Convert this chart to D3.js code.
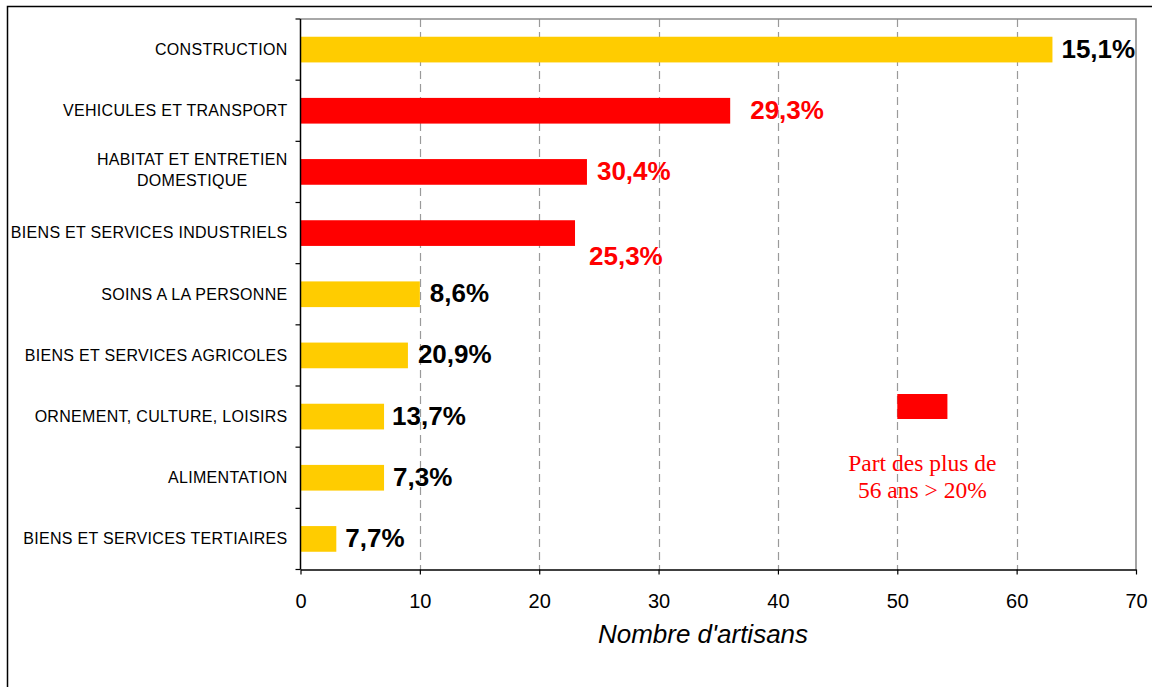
<!DOCTYPE html>
<html>
<head>
<meta charset="utf-8">
<script src="https://cdn.jsdelivr.net/npm/d3@7"></script>
<style>
  html, body { margin: 0; padding: 0; background: #fff; }
  svg { display: block; }
</style>
</head>
<body>
<svg id="chart" width="1152" height="687"></svg>
<script>
// categories, top to bottom ("\n" = line break in the label)
const categories = [
  "CONSTRUCTION",
  "VEHICULES ET TRANSPORT",
  "HABITAT ET ENTRETIEN\nDOMESTIQUE",
  "BIENS ET SERVICES INDUSTRIELS",
  "SOINS A LA PERSONNE",
  "BIENS ET SERVICES AGRICOLES",
  "ORNEMENT, CULTURE, LOISIRS",
  "ALIMENTATION",
  "BIENS ET SERVICES TERTIAIRES"
];
// nombre d'artisans
const artisans = [63, 36, 24, 23, 10, 9, 7, 7, 3];
// part des plus de 56 ans (%)
const partSeniors = [15.1, 29.3, 30.4, 25.3, 8.6, 20.9, 13.7, 7.3, 7.7];
// bars highlighted in red in the original
const highlighted = [false, true, true, true, false, false, false, false, false];
const xTicks = [0, 10, 20, 30, 40, 50, 60, 70];
const legendLines = ["Part des plus de", "56 ans > 20%"];
const axisTitle = "Nombre d'artisans";

// hand placed label nudges (px), as in the original
const labelDx = [9, 20, 10, 14, 10, 10, 8, 9, 9];
const labelDy = [0, 0, 0, 24, 0, 0, 0, 0, 0];

const svg = d3.select("#chart");
const margin = {top: 19, right: 16, bottom: 117.5, left: 300.5};
const width = +svg.attr("width");
const height = +svg.attr("height");
const gold = "#FFCC00", red = "#FF0000";

const fr = d3.formatLocale({decimal: ",", thousands: " ", grouping: [3], currency: ["", " €"]});
const pct = v => fr.format(".1f")(v) + "%";

const x = d3.scaleLinear().domain([0, 70]).range([margin.left, width - margin.right]);
const y = d3.scaleBand().domain(categories)
  .range([margin.top, height - margin.bottom])
  .paddingInner(0.58).paddingOuter(0.29);

// outer frame of the chart object
svg.append("rect")
  .attr("x", 7.5).attr("y", 6.5)
  .attr("width", width + 20).attr("height", height + 20)
  .attr("fill", "none").attr("stroke", "#000").attr("stroke-width", 1.5);

// gridlines
svg.append("g")
  .selectAll("line")
  .data(xTicks.filter(t => t > 0 && t < 70))
  .join("line")
  .attr("x1", d => Math.round(x(d)) + 0.5).attr("x2", d => Math.round(x(d)) + 0.5)
  .attr("y1", margin.top).attr("y2", height - margin.bottom)
  .attr("stroke", "#9a9a9a").attr("stroke-width", 1.2)
  .attr("stroke-dasharray", "8,5");

// plot area frame (top and right, gray)
svg.append("path")
  .attr("d", `M${x(0)},${margin.top}H${x(70)}V${height - margin.bottom}`)
  .attr("fill", "none").attr("stroke", "#8c8c8c").attr("stroke-width", 1.6);

// bars
svg.append("g")
  .selectAll("rect")
  .data(categories)
  .join("rect")
  .attr("x", x(0))
  .attr("y", d => y(d))
  .attr("width", (d, i) => x(artisans[i]) - x(0))
  .attr("height", y.bandwidth())
  .attr("fill", (d, i) => highlighted[i] ? red : gold);

// value labels
svg.append("g")
  .selectAll("text")
  .data(categories)
  .join("text")
  .attr("x", (d, i) => x(artisans[i]) + labelDx[i])
  .attr("y", (d, i) => y(d) + y.bandwidth() / 2 + labelDy[i])
  .attr("dy", "0.31em")
  .attr("font-family", "'Liberation Sans', Arial, sans-serif")
  .attr("font-weight", "bold")
  .attr("font-size", 26)
  .attr("fill", (d, i) => highlighted[i] ? red : "#000")
  .text((d, i) => pct(partSeniors[i]));

// y axis line and ticks
const yAxis = svg.append("g");
yAxis.append("line")
  .attr("x1", x(0)).attr("x2", x(0))
  .attr("y1", margin.top).attr("y2", height - margin.bottom)
  .attr("stroke", "#000").attr("stroke-width", 1.5);
const step = y.step();
yAxis.selectAll(".tk")
  .data(d3.range(categories.length + 1))
  .join("line")
  .attr("class", "tk")
  .attr("x1", x(0) - 5).attr("x2", x(0))
  .attr("y1", i => margin.top + i * step).attr("y2", i => margin.top + i * step)
  .attr("stroke", "#000").attr("stroke-width", 1.2);

// category labels
const labelRight = 287.5;
const cat = svg.append("g")
  .attr("font-family", "'Liberation Sans', Arial, sans-serif")
  .attr("font-size", 16)
  .attr("letter-spacing", "0.3px")
  .attr("fill", "#000");
categories.forEach(c => {
  const lines = c.split("\n");
  const cy = y(c) + y.bandwidth() / 2;
  const t = cat.append("text");
  if (lines.length === 1) {
    t.attr("x", labelRight).attr("y", cy).attr("dy", "0.33em")
      .attr("text-anchor", "end").text(c);
  } else {
    // wrapped label: lines centred on each other, block right aligned
    const tmp = cat.append("text").text(lines[0]);
    const w = tmp.node().getComputedTextLength();
    tmp.remove();
    const lh = 21.5;
    t.attr("text-anchor", "middle");
    lines.forEach((l, k) => {
      t.append("tspan")
        .attr("x", labelRight - w / 2)
        .attr("y", cy - 1.5 + (k - (lines.length - 1) / 2) * lh)
        .attr("dy", "0.33em")
        .text(l);
    });
  }
});

// x axis
const xAxis = svg.append("g")
  .attr("transform", `translate(0,${height - margin.bottom})`)
  .call(d3.axisBottom(x).tickValues(xTicks).tickSize(5).tickSizeOuter(0).tickPadding(19));
xAxis.select(".domain").attr("stroke", "#000").attr("stroke-width", 1.5);
xAxis.selectAll(".tick line").attr("stroke", "#000").attr("stroke-width", 1.2);
xAxis.selectAll(".tick text")
  .attr("font-family", "'Liberation Sans', Arial, sans-serif")
  .attr("font-size", 20)
  .attr("fill", "#000");

// axis title
svg.append("text")
  .attr("x", 703).attr("y", 643)
  .attr("text-anchor", "middle")
  .attr("font-family", "'Liberation Sans', Arial, sans-serif")
  .attr("font-style", "italic")
  .attr("font-size", 26)
  .text(axisTitle);

// legend
const legend = svg.append("g").attr("transform", `translate(${x(50)},394)`);
legend.append("rect")
  .attr("width", x(54.2) - x(50)).attr("height", 25)
  .attr("fill", red);
legend.append("text")
  .attr("text-anchor", "middle")
  .attr("font-family", "'Liberation Serif', 'Times New Roman', serif")
  .attr("font-size", 23.5)
  .attr("fill", red)
  .selectAll("tspan")
  .data(legendLines)
  .join("tspan")
  .attr("x", (x(54.2) - x(50)) / 2)
  .attr("y", (d, i) => 77 + i * 27)
  .text(d => d);
</script>
</body>
</html>
